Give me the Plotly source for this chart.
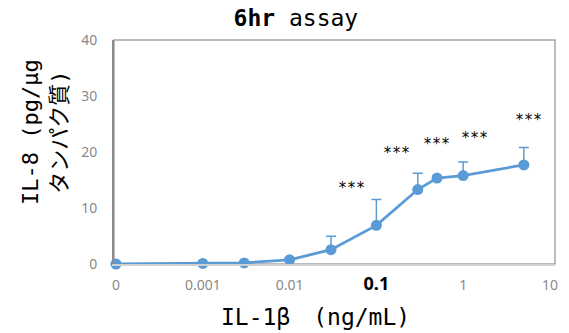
import numpy as np
import plotly.graph_objects as go

# Data
dose = [0, 0.001, 0.003, 0.01, 0.03, 0.1, 0.3, 0.5, 1, 5]          # IL-1beta ng/mL
il8 = [0.0, 0.1, 0.2, 0.75, 2.55, 6.9, 13.3, 15.35, 15.8, 17.7]     # pg/ug protein
err_up = [0.0, 0.0, 0.0, 0.3, 2.4, 4.6, 2.9, 0.3, 2.4, 3.1]

tick_vals = [0, 0.001, 0.01, 0.1, 1, 10]
tick_labels = ["0", "0.001", "0.01", "0.1", "1", "10"]

star_x = [0.052, 0.17, 0.49, 1.35, 5.6]
star_y = [13.5, 19.8, 21.4, 22.5, 25.8]
star_text = ["***"] * 5

ZERO_POS = 1e-4  # position where dose 0 is drawn on the log axis

def pos(v):
    return ZERO_POS if v == 0 else v

xs = [pos(v) for v in dose]
tv = [pos(v) for v in tick_vals]
tt = []
for v, lab in zip(tick_vals, tick_labels):
    if v == 0.1:
        tt.append('<span style="color:black;font-size:18px"><b>' + lab + '</b></span>')
    else:
        tt.append(lab)

blue = "#5B9BD5"
fig = go.Figure()
fig.add_trace(go.Scatter(
    x=xs, y=il8, mode="lines+markers",
    line=dict(color=blue, width=2.8),
    marker=dict(color=blue, size=11),
    error_y=dict(type="data", array=err_up, arrayminus=[0] * len(err_up),
                 symmetric=False, color=blue, thickness=1.5, width=5),
    cliponaxis=False, showlegend=False,
))

font_t = "DejaVu Sans Mono, Noto Sans CJK JP"

annotations = []
for sx, sy, st in zip(star_x, star_y, star_text):
    annotations.append(dict(x=np.log10(sx), y=sy, xref="x", yref="y", text=st,
                            showarrow=False, font=dict(family=font_t, size=15, color="black")))

annotations.append(dict(x=-0.222, y=0.59, xref="paper", yref="paper",
                        text="IL-8 (pg/µg<br>タンパク質)", textangle=-90, showarrow=False,
                        font=dict(family=font_t, size=22, color="black")))
annotations.append(dict(x=0.458, y=-0.237, xref="paper", yref="paper",
                        text="IL-1β　(ng/mL)", showarrow=False, yanchor="middle",
                        font=dict(family=font_t, size=23, color="black")))

shapes = [
    dict(type="line", xref="x", yref="paper", x0=-1, x1=-1, y0=0, y1=1,
         line=dict(color="#bfbfbf", width=1, dash="dash"), layer="below"),
    dict(type="rect", xref="paper", yref="paper", x0=0, x1=1, y0=0, y1=1,
         line=dict(color="#a6a6a6", width=1.5), layer="below"),
]

fig.update_layout(
    width=569, height=333,
    margin=dict(l=114, r=14, t=40, b=69),
    paper_bgcolor="white", plot_bgcolor="white",
    title=dict(text="<b>6hr</b> assay", x=0.52, xanchor="center", y=0.945, yanchor="middle",
               font=dict(family=font_t, size=23, color="black")),
    xaxis=dict(type="log", range=[-4.023, 1.058], tickvals=tv, ticktext=tt,
               showgrid=False, zeroline=False, showline=True, linecolor="#d0d0d0", linewidth=1.5,
               ticks="", ticklabelstandoff=7,
               tickfont=dict(family="Noto Sans", size=14, color="#898989")),
    yaxis=dict(range=[0, 40], tickvals=[0, 10, 20, 30, 40],
               showgrid=False, zeroline=False, showline=True, linecolor="#8c8c8c", linewidth=2,
               ticks="", ticklabelstandoff=12,
               tickfont=dict(family="Noto Sans", size=14, color="#898989")),
    annotations=annotations,
    shapes=shapes,
)

fig.write_html("out.html")
